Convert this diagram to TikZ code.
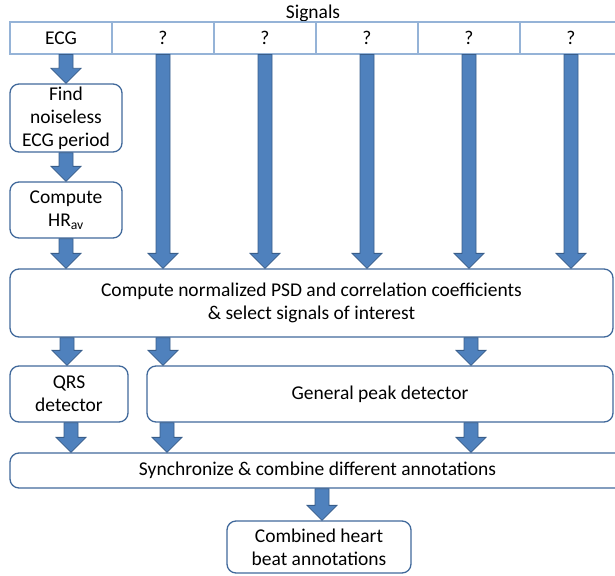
\documentclass[tikz,border=0pt]{standalone}
\usepackage{fontspec}
\setmainfont{Carlito}
\usetikzlibrary{calc}
\definecolor{arrfill}{RGB}{79,129,189}
\definecolor{arrline}{RGB}{56,93,138}
\definecolor{boxline}{RGB}{65,105,155}
\definecolor{tabline}{RGB}{149,179,215}
\tikzset{
  box/.style={draw=boxline, line width=1.3pt, rounded corners=9pt, align=center, inner sep=0pt, font=\fontsize{19.5}{23}\selectfont},
  cell/.style={draw=tabline, line width=1.2pt, minimum width=102pt, minimum height=32pt, inner sep=0pt, font=\fontsize{19.5}{23}\selectfont},
  blk/.style={fill=arrfill, draw=arrline, line width=0.8pt, line join=miter},
  lbl/.style={inner sep=0pt, font=\fontsize{19.5}{23}\selectfont},
}
\newcommand\barrow[3]{\path[blk] let \p1=(#2), \p2=(#3) in
  (#1pt-7pt,\y1) -- (#1pt+7pt,\y1) -- (#1pt+7pt,\y2+15pt) -- (#1pt+15pt,\y2+15pt)
  -- (#1pt,\y2) -- (#1pt-15pt,\y2+15pt) -- (#1pt-7pt,\y2+15pt) -- cycle;}
\begin{document}
\begin{tikzpicture}[x=1pt,y=-1pt]
\useasboundingbox (0,0) rectangle (615,575);
\node[lbl] (signals) at (313,13) {Signals};
\node[cell] (c0) at (61,38) {ECG};
\node[cell] (c1) at (163,38) {?};
\node[cell] (c2) at (265,38) {?};
\node[cell] (c3) at (367,38) {?};
\node[cell] (c4) at (469,38) {?};
\node[cell] (c5) at (571,38) {?};
\node[box, minimum width=112pt, minimum height=68pt] (find) at (66,118) {Find\\noiseless\\ECG period};
\node[box, minimum width=112pt, minimum height=56pt] (hr) at (66,210) {Compute\\HR\textsubscript{av}};
\node[box, minimum width=603pt, minimum height=68pt] (psd) at (311.5,303) {Compute normalized PSD and correlation coefficients\\\& select signals of interest};
\node[box, minimum width=118pt, minimum height=56pt] (qrs) at (69,394) {QRS\\detector};
\node[box, minimum width=466pt, minimum height=56pt] (gen) at (380,394) {General peak detector};
\node[box, minimum width=615pt, minimum height=35pt] (sync) at (317.5,470.5) {Synchronize \& combine different annotations};
\node[box, minimum width=184pt, minimum height=52pt] (comb) at (319,547) {Combined heart\\beat annotations};
\barrow{66}{c0.south}{find.north}
\barrow{66}{find.south}{hr.north}
\barrow{66}{hr.south}{psd.north}
\barrow{163}{c1.south}{psd.north}
\barrow{265}{c2.south}{psd.north}
\barrow{367}{c3.south}{psd.north}
\barrow{469}{c4.south}{psd.north}
\barrow{571}{c5.south}{psd.north}
\barrow{67}{psd.south}{qrs.north}
\barrow{163}{psd.south}{gen.north}
\barrow{471}{psd.south}{gen.north}
\barrow{71}{qrs.south}{sync.north}
\barrow{167}{gen.south}{sync.north}
\barrow{471}{gen.south}{sync.north}
\barrow{322}{sync.south}{comb.north}
\end{tikzpicture}
\end{document}
